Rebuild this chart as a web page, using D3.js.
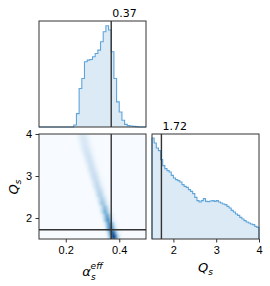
<!DOCTYPE html>
<meta charset="utf-8">
<style>
body { margin: 0; background: #fff; }
svg { font-family: "DejaVu Sans", sans-serif; }
.hist-line { fill: none; stroke: #5fa5da; stroke-width: 1.1px; }
.hist-fill { fill: #dceaf6; stroke: none; }
.frame { fill: none; stroke: #333; stroke-width: 1px; }
.mark { stroke: #333; stroke-width: 1.4px; }
.tick text { font-size: 11px; fill: #000; }
</style>
<svg width="270" height="286"></svg>
<script src="https://d3js.org/d3.v7.min.js"></script>
<script>

// alpha_s^eff marginal, 40 bins from 0.1 to 0.5
var alphaEdges = [0.1, 0.5];
var alphaCounts = [0,0,0,0,0,0,0,0,0,0,0,0,0,6,40,115,145,195,200,202,
                   210,220,230,255,285,303,290,225,145,75,45,20,8,4,3,2,1,0,0,0];

// Q_s marginal, 50 bins from 1.5 to 4
var qEdges = [1.5, 4];
var qCounts = [303,288,273,265,238,220,211,205,201,191,183,178,175,171,163,158,155,148,143,136,
               125,115,111,115,121,113,112,114,115,113,115,111,108,105,103,98,93,86,81,75,
               71,65,60,55,51,48,45,43,38,35];

// 2D histogram: rows from Q=4 down to Q=1.5 (0.1 each), alpha columns 0.01 wide from 0.1
var rowStart = [14,14,15,15,16,16,17,17,18,18,19,19,20,20,21,21,22,22,23,23,24,24,25,25,25];
var rowValues = [
  [0.05,0.12,0.15,0.12,0.05],
  [0.03,0.10,0.16,0.15,0.08,0.02],
  [0.08,0.15,0.17,0.10,0.03],
  [0.05,0.13,0.18,0.15,0.06,0.02],
  [0.10,0.18,0.18,0.10,0.03],
  [0.04,0.14,0.20,0.16,0.06,0.01],
  [0.10,0.20,0.20,0.10,0.03],
  [0.04,0.15,0.22,0.16,0.05,0.01],
  [0.12,0.22,0.20,0.10,0.02],
  [0.04,0.17,0.24,0.17,0.05,0.01],
  [0.12,0.24,0.22,0.10,0.02],
  [0.04,0.18,0.26,0.18,0.05,0.01],
  [0.14,0.27,0.24,0.10,0.02],
  [0.04,0.20,0.30,0.20,0.06,0.01],
  [0.15,0.32,0.28,0.10,0.02],
  [0.04,0.22,0.36,0.24,0.06,0.01],
  [0.18,0.40,0.34,0.10,0.02],
  [0.04,0.26,0.45,0.30,0.06,0.01],
  [0.25,0.50,0.40,0.12,0.02],
  [0.06,0.35,0.58,0.35,0.08,0.01],
  [0.30,0.65,0.50,0.15,0.02],
  [0.08,0.45,0.72,0.45,0.10,0.02],
  [0.40,0.80,0.60,0.20,0.03],
  [0.12,0.60,0.90,0.60,0.15,0.03],
  [0.05,0.45,0.95,0.85,0.35,0.05]
];

var alphaMedian = 0.37, qMedian = 1.72;
var alphaTicks = [0.2, 0.4];
var qTicks = [2, 3, 4];

var svg = d3.select("svg");

var xA = d3.scaleLinear().domain(alphaEdges).range([39, 146]);
var xQ = d3.scaleLinear().domain(qEdges).range([152, 259]);
var yQ = d3.scaleLinear().domain([4, 1.5]).range([134, 239]);
var yTop = d3.scaleLinear().domain([0, 317]).range([127, 21]);
var yRight = d3.scaleLinear().domain([0, 315]).range([239, 134]);

function stepPoints(edges, counts) {
  var w = (edges[1] - edges[0]) / counts.length, pts = [[edges[0], 0]];
  counts.forEach(function(c, i) { pts.push([edges[0] + i * w, c]); pts.push([edges[0] + (i + 1) * w, c]); });
  pts.push([edges[1], 0]);
  return pts;
}

function drawHist(edges, counts, x, y) {
  var pts = stepPoints(edges, counts);
  svg.append("path").attr("class", "hist-fill")
    .attr("d", d3.area().x(function(d) { return x(d[0]); }).y0(y(0)).y1(function(d) { return y(d[1]); })(pts));
  svg.append("path").attr("class", "hist-line")
    .attr("d", d3.line().x(function(d) { return x(d[0]); }).y(function(d) { return y(d[1]); })(pts));
}

// clip + blur for the density image
var defs = svg.append("defs");
defs.append("clipPath").attr("id", "clipBL").append("rect")
  .attr("x", 39).attr("y", 134).attr("width", 107).attr("height", 105);
defs.append("filter").attr("id", "soft").attr("x", "-10%").attr("y", "-10%").attr("width", "120%").attr("height", "120%")
  .append("feGaussianBlur").attr("stdDeviation", 0.9);

// top-left histogram
drawHist(alphaEdges, alphaCounts, xA, yTop);
svg.append("line").attr("class", "mark")
  .attr("x1", xA(alphaMedian)).attr("x2", xA(alphaMedian)).attr("y1", 21).attr("y2", 127);
svg.append("rect").attr("class", "frame").attr("x", 39).attr("y", 21).attr("width", 107).attr("height", 106);
svg.append("text").attr("x", xA(alphaMedian) + 1).attr("y", 17)
  .attr("font-size", 11).text(alphaMedian.toFixed(2));

// bottom-left density
var color = d3.scaleSequential(d3.interpolateBlues).domain([0, 1]);
var cells = [];
rowValues.forEach(function(row, r) {
  row.forEach(function(v, k) { cells.push({ c: rowStart[r] + k, r: r, v: v }); });
});
var bl = svg.append("g").attr("clip-path", "url(#clipBL)");
bl.append("rect").attr("x", 39).attr("y", 134).attr("width", 107).attr("height", 105).attr("fill", color(0));
bl.append("g").attr("filter", "url(#soft)")
  .selectAll("rect").data(cells).enter().append("rect")
  .attr("x", function(d) { return xA(0.1 + d.c * 0.01); })
  .attr("y", function(d) { return yQ(4 - d.r * 0.1); })
  .attr("width", xA(0.11) - xA(0.1) + 0.3)
  .attr("height", yQ(3.9) - yQ(4) + 0.3)
  .attr("fill", function(d) { return color(d.v); });
svg.append("line").attr("class", "mark")
  .attr("x1", xA(alphaMedian)).attr("x2", xA(alphaMedian)).attr("y1", 134).attr("y2", 239);
svg.append("line").attr("class", "mark")
  .attr("x1", 39).attr("x2", 146).attr("y1", yQ(qMedian)).attr("y2", yQ(qMedian));
svg.append("rect").attr("class", "frame").attr("x", 39).attr("y", 134).attr("width", 107).attr("height", 105);

svg.append("g").attr("transform", "translate(0,239)")
  .call(d3.axisBottom(xA).tickValues(alphaTicks).tickFormat(d3.format(".1f")).tickSize(3.5).tickPadding(3.5))
  .call(function(g) { g.select(".domain").remove(); });
svg.append("g").attr("transform", "translate(39,0)")
  .call(d3.axisLeft(yQ).tickValues(qTicks).tickFormat(d3.format("d")).tickSize(3.5).tickPadding(3.5))
  .call(function(g) { g.select(".domain").remove(); });

// bottom-right histogram
drawHist(qEdges, qCounts, xQ, yRight);
svg.append("line").attr("class", "mark")
  .attr("x1", xQ(qMedian)).attr("x2", xQ(qMedian)).attr("y1", 134).attr("y2", 239);
svg.append("rect").attr("class", "frame").attr("x", 152).attr("y", 134).attr("width", 107).attr("height", 105);
svg.append("text").attr("x", xQ(qMedian) + 1).attr("y", 130)
  .attr("font-size", 11).text(qMedian.toFixed(2));
svg.append("g").attr("transform", "translate(0,239)")
  .call(d3.axisBottom(xQ).tickValues(qTicks).tickFormat(d3.format("d")).tickSize(3.5).tickPadding(3.5))
  .call(function(g) { g.select(".domain").remove(); });

svg.selectAll(".tick line").attr("stroke", "#333");

// axis labels
var la = svg.append("text").attr("x", 92.5).attr("y", 276).attr("text-anchor", "middle")
  .attr("font-size", 13).attr("font-style", "italic");
la.append("tspan").text("α");
la.append("tspan").attr("font-size", 9).attr("dy", 4).text("s");
la.append("tspan").attr("font-size", 9).attr("dx", -5).attr("dy", -11).text("eff");

var lq = svg.append("text").attr("x", 205.5).attr("y", 272).attr("text-anchor", "middle")
  .attr("font-size", 13).attr("font-style", "italic");
lq.append("tspan").text("Q");
lq.append("tspan").attr("font-size", 9).attr("dy", 3).text("s");

var ly = svg.append("text").attr("transform", "translate(18,187) rotate(-90)").attr("text-anchor", "middle")
  .attr("font-size", 13).attr("font-style", "italic");
ly.append("tspan").text("Q");
ly.append("tspan").attr("font-size", 9).attr("dy", 3).text("s");

</script>
